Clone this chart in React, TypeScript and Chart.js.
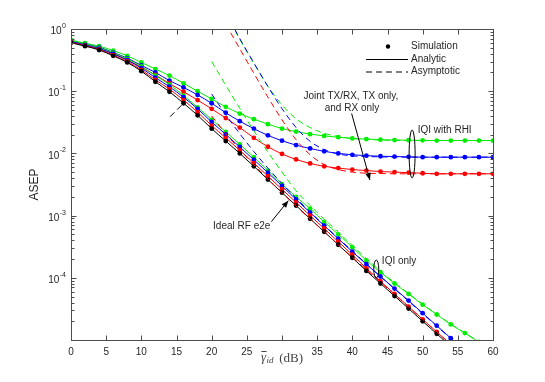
import React, { useEffect, useRef } from "react";
import { Chart, registerables } from "chart.js";
Chart.register(...registerables);

// ---------- data ----------
const SNR_DB = [0, 2, 4, 6, 8, 10, 12, 14, 16, 18, 20, 22, 24, 26, 28, 30, 32, 34, 36, 38, 40, 42, 44, 46, 48, 50, 52, 54, 56, 58, 60];

const IDEAL = [0.60, 0.53, 0.46, 0.37, 0.29, 0.21, 0.142, 0.098, 0.064, 0.041, 0.025, 0.0158, 0.0100, 0.0062, 0.0038, 0.00234, 0.00145, 0.00089, 0.00055, 0.00034, 0.00021, 0.000129, 0.000081, 0.000051, 0.000032, 0.000020, 0.0000126, 0.0000079, 0.000005, null, null];

const RED_IQI = [0.61, 0.54, 0.47, 0.38, 0.30, 0.22, 0.152, 0.108, 0.072, 0.046, 0.028, 0.0178, 0.0112, 0.0070, 0.0043, 0.00265, 0.00163, 0.00100, 0.00062, 0.00038, 0.000235, 0.000142, 0.000088, 0.000055, 0.0000345, 0.0000215, 0.0000135, 0.0000085, 0.0000053, null, null];
const BLUE_IQI = [0.63, 0.555, 0.485, 0.40, 0.315, 0.235, 0.165, 0.118, 0.080, 0.052, 0.032, 0.0202, 0.0127, 0.0079, 0.0049, 0.0030, 0.00182, 0.00112, 0.00069, 0.000425, 0.000263, 0.000165, 0.000105, 0.000067, 0.000043, 0.000027, 0.000017, 0.0000107, 0.0000068, null, null];
const GREEN_IQI = [0.65, 0.575, 0.50, 0.415, 0.33, 0.25, 0.178, 0.128, 0.085, 0.055, 0.035, 0.0222, 0.0140, 0.0087, 0.0053, 0.0032, 0.0020, 0.00129, 0.00079, 0.00050, 0.00031, 0.00019, 0.000123, 0.000081, 0.000055, 0.000037, 0.0000257, 0.0000178, 0.0000129, 0.0000093, null];

const RED_RHI = [0.61, 0.55, 0.48, 0.40, 0.32, 0.243, 0.182, 0.133, 0.098, 0.072, 0.052, 0.037, 0.026, 0.0178, 0.0128, 0.0098, 0.0080, 0.0069, 0.0062, 0.0058, 0.0055, 0.0053, 0.0051, 0.0050, 0.0049, 0.0048, 0.0047, 0.0047, 0.0047, 0.0047, 0.0047];
const BLUE_RHI = [0.64, 0.57, 0.51, 0.42, 0.34, 0.26, 0.20, 0.148, 0.115, 0.087, 0.064, 0.045, 0.033, 0.025, 0.0195, 0.0160, 0.0136, 0.0120, 0.0108, 0.0100, 0.0095, 0.0092, 0.0090, 0.0089, 0.0088, 0.0087, 0.0087, 0.0087, 0.0087, 0.0087, 0.0087];
const GREEN_RHI = [0.665, 0.59, 0.53, 0.45, 0.37, 0.29, 0.227, 0.178, 0.134, 0.100, 0.075, 0.056, 0.0437, 0.0355, 0.0295, 0.0251, 0.0224, 0.0204, 0.0191, 0.0182, 0.0174, 0.0170, 0.0166, 0.0164, 0.0163, 0.0162, 0.0161, 0.0161, 0.0161, 0.0161, 0.0161];

const N11 = [null, null, null, null, null, null, null, null, null, null, null];
const N10 = [null, null, null, null, null, null, null, null, null, null];
const RED_RHI_ASYM = [...N11, 1.2, 0.48, 0.194, 0.080, 0.0347, 0.0166, 0.0095, 0.0066, 0.0055, 0.0050, 0.0048, 0.00475, 0.0047, 0.0047, 0.0047, 0.0047, 0.0047, 0.0047, 0.0047, 0.0047];
const BLUE_RHI_ASYM = [...N11, 1.9, 0.70, 0.285, 0.119, 0.0524, 0.0261, 0.0156, 0.0115, 0.0098, 0.0091, 0.0089, 0.0088, 0.0087, 0.0087, 0.0087, 0.0087, 0.0087, 0.0087, 0.0087, 0.0087];
const GREEN_RHI_ASYM = [...N11, 1.8, 0.68, 0.28, 0.12, 0.060, 0.036, 0.026, 0.021, 0.0187, 0.0174, 0.0168, 0.0164, 0.0162, 0.0161, 0.0161, 0.0161, 0.0161, 0.0161, 0.0161, 0.0161];

const GREEN_IQI_ASYM = [...N10, 0.30, 0.125, 0.053, 0.023, 0.0105, 0.0050, 0.0025, 0.00145, 0.00088, 0.00054, 0.00033, 0.000205, 0.000128, 0.000083, 0.000056, 0.0000375, 0.000026, 0.000018, 0.000013, 0.0000094, 0.0000068];
const BLUE_IQI_ASYM = [...N10, 0.09, 0.042, 0.0207, 0.0107, 0.0058, 0.00328, 0.00192, 0.00115, 0.0007, 0.000434, 0.00027, 0.000167, 0.000105, 0.0000664, 0.0000419, 0.0000264, 0.0000167, 0.0000105, 0.0000066, 0.0000042, 0.0000026];
const RED_IQI_ASYM = [...N10, 0.04, 0.0209, 0.0115, 0.00655, 0.00387, 0.00233, 0.00142, 0.00088, 0.00055, 0.00034, 0.000214, 0.000135, 0.0000852, 0.0000538, 0.000034, 0.0000214, 0.0000135, 0.0000085, 0.0000054, 0.0000034, 0.0000021];

const SHORT_DASH_X = [14.1, 16.0];
const SHORT_DASH_Y = [0.039, 0.064];

const X_TICKS = [0, 5, 10, 15, 20, 25, 30, 35, 40, 45, 50, 55, 60];
const X_TICK_LABELS = ["0", "5", "10", "15", "20", "25", "", "35", "40", "45", "50", "55", "60"];
const Y_LABEL_EXPONENTS = [0, -1, -2, -3, -4];
const LEGEND_LABELS = ["Simulation", "Analytic", "Asymptotic"];

// ---------- styles ----------
const C_BLACK = "#000000";
const C_RED = "#ff0000";
const C_BLUE = "#0000ff";
const C_GREEN = "#00ee00";
const AXIS_COLOR = "#4d4d4d";
const TEXT_COLOR = "#262626";
const SANS = '"Liberation Sans", Arial, Helvetica, sans-serif';
const SERIF = '"Liberation Serif", "DejaVu Serif", serif';

const pts = (vals: (number | null)[]) =>
  SNR_DB.map((x, i) => ({ x, y: vals[i] })).filter((p) => p.y != null);

const solid = (vals: (number | null)[], color: string) => ({
  data: pts(vals),
  borderColor: color,
  backgroundColor: color,
  borderWidth: 1,
  pointRadius: 2.4,
  pointBorderWidth: 0,
  pointBackgroundColor: color,
  cubicInterpolationMode: "monotone",
});
const dashed = (vals: (number | null)[], color: string) => ({
  data: pts(vals),
  borderColor: color,
  borderWidth: 1,
  borderDash: [6, 4],
  pointRadius: 0,
  cubicInterpolationMode: "monotone",
});

function arrow(ctx: CanvasRenderingContext2D, x0: number, y0: number, x1: number, y1: number) {
  ctx.beginPath();
  ctx.moveTo(x0, y0);
  ctx.lineTo(x1, y1);
  ctx.stroke();
  const ang = Math.atan2(y1 - y0, x1 - x0);
  const L = 7, W = 2.8;
  ctx.beginPath();
  ctx.moveTo(x1, y1);
  ctx.lineTo(x1 - L * Math.cos(ang) + W * Math.sin(ang), y1 - L * Math.sin(ang) - W * Math.cos(ang));
  ctx.lineTo(x1 - L * Math.cos(ang) - W * Math.sin(ang), y1 - L * Math.sin(ang) + W * Math.cos(ang));
  ctx.closePath();
  ctx.fill();
}

const axesPlugin = {
  id: "matlabAxes",
  afterDraw(chart: any) {
    const { ctx, chartArea: a, scales } = chart;
    const xs = scales.x, ys = scales.y;
    const X = (v: number) => xs.getPixelForValue(v);
    const Y = (v: number) => ys.getPixelForValue(v);
    ctx.save();
    ctx.strokeStyle = AXIS_COLOR;
    ctx.lineWidth = 1;
    const L = Math.round(a.left) + 0.5, R = Math.round(a.right) + 0.5;
    const T = Math.round(a.top) + 0.5, B = Math.round(a.bottom) + 0.5;
    ctx.strokeRect(L, T, R - L, B - T);
    ctx.beginPath();
    for (const t of X_TICKS) {
      const px = Math.round(X(t)) + 0.5;
      ctx.moveTo(px, B); ctx.lineTo(px, B - 5);
      ctx.moveTo(px, T); ctx.lineTo(px, T + 5);
    }
    for (let e = -5; e <= 0; e++) {
      for (let m = 1; m <= 9; m++) {
        const v = m * Math.pow(10, e);
        if (v > 1.0001 || v < 0.99e-5) continue;
        const py = Math.round(Y(v)) + 0.5;
        const len = m === 1 ? 5 : 3;
        ctx.moveTo(L, py); ctx.lineTo(L + len, py);
        ctx.moveTo(R, py); ctx.lineTo(R - len, py);
      }
    }
    ctx.stroke();

    // tick labels
    ctx.fillStyle = TEXT_COLOR;
    ctx.font = `10px ${SANS}`;
    ctx.textAlign = "center";
    ctx.textBaseline = "middle";
    X_TICKS.forEach((t, i) => {
      if (X_TICK_LABELS[i]) ctx.fillText(X_TICK_LABELS[i], X(t), a.bottom + 12);
    });
    for (const e of Y_LABEL_EXPONENTS) {
      const py = Y(Math.pow(10, e));
      const sup = String(e).replace("-", "-");
      ctx.font = `7px ${SANS}`;
      const sw = ctx.measureText(sup).width;
      const right = a.left - 5;
      ctx.textAlign = "left";
      ctx.fillText(sup, right - sw, py - 3);
      ctx.font = `10px ${SANS}`;
      ctx.textAlign = "right";
      ctx.fillText("10", right - sw - 0.5, py + 2.5);
    }

    // y axis title
    ctx.save();
    ctx.translate(35, (a.top + a.bottom) / 2);
    ctx.rotate(-Math.PI / 2);
    ctx.textAlign = "center";
    ctx.font = `12px ${SANS}`;
    ctx.fillText("ASEP", 0, 0);
    ctx.restore();

    // x axis title: gamma-bar_id (dB)
    {
      const cy = a.bottom + 18;
      ctx.fillStyle = "#444444";
      ctx.font = `italic 13px ${SERIF}`;
      const gW = ctx.measureText("\u03B3").width;
      ctx.font = `italic 9px ${SERIF}`;
      const sW = ctx.measureText("id").width;
      ctx.font = `13px ${SERIF}`;
      const dW = ctx.measureText(" (dB)").width;
      const total = gW + sW + 3 + dW;
      let x0 = X(30) - total / 2;
      ctx.textAlign = "left";
      ctx.textBaseline = "alphabetic";
      ctx.font = `italic 13px ${SERIF}`;
      ctx.fillText("\u03B3", x0, cy + 3);
      ctx.strokeStyle = "#444444";
      ctx.beginPath();
      ctx.moveTo(x0 + 0.5, cy - 6.5); ctx.lineTo(x0 + gW + 0.5, cy - 6.5);
      ctx.stroke();
      ctx.font = `italic 9px ${SERIF}`;
      ctx.fillText("id", x0 + gW + 0.5, cy + 5);
      ctx.font = `13px ${SERIF}`;
      ctx.fillText(" (dB)", x0 + gW + sW + 3, cy + 4);
    }

    // legend
    ctx.fillStyle = TEXT_COLOR;
    ctx.strokeStyle = "#000";
    ctx.font = `10px ${SANS}`;
    ctx.textAlign = "left";
    ctx.textBaseline = "middle";
    const lx = 366, rx = 408, tx = 411;
    const ly = [46.5, 59, 71.5];
    ctx.fillStyle = "#000";
    ctx.beginPath(); ctx.arc(388, ly[0], 2.2, 0, Math.PI * 2); ctx.fill();
    ctx.beginPath(); ctx.moveTo(lx, ly[1] + 0.5); ctx.lineTo(rx, ly[1] + 0.5); ctx.stroke();
    ctx.setLineDash([6, 4]);
    ctx.beginPath(); ctx.moveTo(lx, ly[2] + 0.5); ctx.lineTo(rx, ly[2] + 0.5); ctx.stroke();
    ctx.setLineDash([]);
    ctx.fillStyle = TEXT_COLOR;
    LEGEND_LABELS.forEach((s, i) => ctx.fillText(s, tx, ly[i]));

    // annotations
    ctx.fillStyle = TEXT_COLOR;
    ctx.strokeStyle = "#000";
    ctx.lineWidth = 1;
    ctx.textAlign = "center";
    ctx.fillText("Joint TX/RX, TX only,", X(39.8), Y(0.0837));
    ctx.fillText("and RX only", X(39.95), Y(0.0527));
    ctx.fillStyle = "#000";
    arrow(ctx, X(39.9), Y(0.0438), X(42.5), Y(0.00373));

    ctx.fillStyle = TEXT_COLOR;
    ctx.textAlign = "left";
    ctx.fillText("IQI with RHI", X(49.3), Y(0.0238));
    {
      const cx = X(48.5), t = Y(0.0238), b = Y(0.00403);
      ctx.beginPath();
      ctx.ellipse(cx, (t + b) / 2, 3, (b - t) / 2, 0, 0, Math.PI * 2);
      ctx.stroke();
    }
    ctx.fillText("Ideal RF e2e", X(20.2), Y(6.8e-4));
    ctx.fillStyle = "#000";
    arrow(ctx, X(28.5), Y(8.0e-4), X(30.9), Y(1.74e-3));
    ctx.fillStyle = TEXT_COLOR;
    ctx.fillText("IQI only", X(44.2), Y(1.86e-4));
    {
      const cx = X(43.4), t = Y(1.93e-4), b = Y(9.9e-5);
      ctx.beginPath();
      ctx.ellipse(cx, (t + b) / 2, 2.5, (b - t) / 2, 0, 0, Math.PI * 2);
      ctx.stroke();
    }
    ctx.restore();
  },
};

export default function App() {
  const ref = useRef<HTMLCanvasElement | null>(null);
  useEffect(() => {
    if (!ref.current) return;
    const chart = new Chart(ref.current, {
      type: "line",
      data: {
        datasets: [
          dashed(RED_RHI_ASYM, C_RED),
          dashed(BLUE_RHI_ASYM, C_BLUE),
          dashed(GREEN_RHI_ASYM, C_GREEN),
          dashed(RED_IQI_ASYM, C_RED),
          dashed(BLUE_IQI_ASYM, C_BLUE),
          dashed(GREEN_IQI_ASYM, C_GREEN),
          {
            data: SHORT_DASH_X.map((x, i) => ({ x, y: SHORT_DASH_Y[i] })),
            borderColor: C_BLACK, borderWidth: 1, borderDash: [6, 4], pointRadius: 0,
          },
          solid(IDEAL, C_BLACK),
          solid(RED_IQI, C_RED),
          solid(BLUE_IQI, C_BLUE),
          solid(GREEN_IQI, C_GREEN),
          solid(RED_RHI, C_RED),
          solid(BLUE_RHI, C_BLUE),
          solid(GREEN_RHI, C_GREEN),
        ] as any,
      },
      options: {
        responsive: false,
        animation: false,
        devicePixelRatio: 1,
        layout: { padding: { left: 71, right: 52, top: 29, bottom: 42 } },
        plugins: { legend: { display: false }, tooltip: { enabled: false } },
        scales: {
          x: { type: "linear", min: 0, max: 60, display: false },
          y: { type: "logarithmic", min: 1e-5, max: 1, display: false },
        },
      } as any,
      plugins: [axesPlugin],
    });
    return () => chart.destroy();
  }, []);
  return (
    <div style={{ position: "absolute", left: 0, top: 0, width: 545, height: 382, background: "#fff" }}>
      <canvas ref={ref} width={545} height={382} style={{ display: "block" }} />
    </div>
  );
}
